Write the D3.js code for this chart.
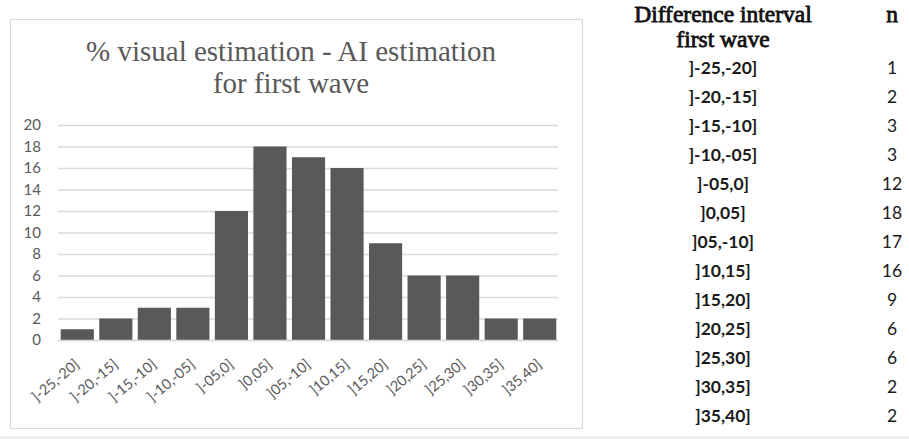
<!DOCTYPE html>
<html>
<head>
<meta charset="utf-8">
<script src="https://cdn.jsdelivr.net/npm/d3@7"></script>
<style>
  html, body { margin: 0; padding: 0; background: #fff; }
  svg { display: block; }
</style>
</head>
<body>
<script>
// ---- data ----
const categories = ["]-25,-20]", "]-20,-15]", "]-15,-10]", "]-10,-05]", "]-05,0]", "]0,05]", "]05,-10]", "]10,15]", "]15,20]", "]20,25]", "]25,30]", "]30,35]", "]35,40]"];
const axisLabels = ["]-25,-20]", "]-20,-15]", "]-15,-10]", "]-10,-05]", "]-05,0]", "]0,05]", "]05,-10]", "]10,15]", "]15,20]", "]20,25]", "]25,30]", "]30,35]", "]35,40]"];
const counts = [1, 2, 3, 3, 12, 18, 17, 16, 9, 6, 6, 2, 2];
const yTicks = [0, 2, 4, 6, 8, 10, 12, 14, 16, 18, 20];
const titleLines = ["% visual estimation - AI estimation", "for first wave"];
const tableHeader = ["Difference interval", "first wave"];
const nHeader = "n";

const W = 909, H = 439;
const svg = d3.select("body").append("svg").attr("width", W).attr("height", H);

// chart frame
svg.append("rect").attr("x", 10.5).attr("y", 19.5).attr("width", 572).attr("height", 409)
  .attr("fill", "#fff").attr("stroke", "#d9d9d9").attr("stroke-width", 1.2);
// bottom line of image
svg.append("line").attr("x1", 0).attr("x2", W).attr("y1", 437.5).attr("y2", 437.5)
  .attr("stroke", "#e3e3e3").attr("stroke-width", 1.5);

// title
const title = svg.append("text").attr("text-anchor", "middle")
  .attr("font-family", "'Liberation Serif', 'Times New Roman', serif")
  .attr("font-size", 29).attr("fill", "#595959");
titleLines.forEach((t, i) => {
  title.append("tspan").attr("x", 291).attr("y", 61 + i * 32).text(t);
});

// scales
const x = d3.scaleBand().domain(categories).range([58, 559]).paddingInner(0.14).paddingOuter(0.07);
const y = d3.scaleLinear().domain([0, 20]).range([340, 125]);

// gridlines
const grid = svg.append("g")
  .attr("transform", "translate(58,0)")
  .call(d3.axisLeft(y).tickValues(yTicks).tickSize(-500).tickFormat(""));
grid.select(".domain").remove();
grid.selectAll("line").attr("stroke", "#d9d9d9").attr("stroke-width", 1.3);

// y labels
svg.append("g").selectAll("text").data(yTicks).join("text")
  .attr("x", 41).attr("y", d => y(d)).attr("dy", "0.36em")
  .attr("text-anchor", "end")
  .attr("font-family", "Lato, 'Noto Sans', sans-serif").attr("font-size", 15)
  .attr("fill", "#595959").text(d => d);

// bars
svg.append("g").selectAll("rect").data(counts).join("rect")
  .attr("x", (d, i) => x(categories[i]))
  .attr("y", d => y(d))
  .attr("width", x.bandwidth())
  .attr("height", d => y(0) - y(d))
  .attr("fill", "#595959");

// x axis line
svg.append("line").attr("x1", 58).attr("x2", 558).attr("y1", y(0) + 0.5).attr("y2", y(0) + 0.5)
  .attr("stroke", "#d9d9d9").attr("stroke-width", 1.3);

// x labels
svg.append("g").selectAll("text").data(categories).join("text")
  .attr("transform", d => `translate(${x(d) + x.bandwidth() / 2 + 3},${366}) rotate(-40)`)
  .attr("text-anchor", "end")
  .attr("font-family", "Lato, 'Noto Sans', sans-serif").attr("font-size", 14.5)
  .attr("fill", "#595959").text((d, i) => axisLabels[i]);

// ---- table ----
const tbl = svg.append("g");
tbl.append("text").attr("text-anchor", "middle")
  .attr("font-family", "'Liberation Serif', 'Times New Roman', 'DejaVu Serif', serif")
  .attr("font-size", 23.5).attr("fill", "#111")
  .attr("stroke", "#111").attr("stroke-width", 0.8)
  .selectAll("tspan").data(tableHeader).join("tspan")
  .attr("x", 723).attr("y", (d, i) => 22 + i * 25).text(d => d);
tbl.append("text").attr("x", 892).attr("y", 22).attr("text-anchor", "middle")
  .attr("font-family", "'Liberation Serif', 'Times New Roman', 'DejaVu Serif', serif")
  .attr("font-size", 23.5).attr("fill", "#111")
  .attr("stroke", "#111").attr("stroke-width", 0.8).text(nHeader);

const rowY = d3.scalePoint().domain(categories).range([74, 422]);
tbl.append("g").selectAll("text").data(categories).join("text")
  .attr("x", 723).attr("y", d => rowY(d)).attr("text-anchor", "middle")
  .attr("font-family", "Lato, 'Noto Sans', sans-serif").attr("font-weight", "bold")
  .attr("font-size", 17.5).attr("fill", "#1a1a1a").text(d => d);
tbl.append("g").selectAll("text").data(counts).join("text")
  .attr("x", 892).attr("y", (d, i) => rowY(categories[i])).attr("text-anchor", "middle")
  .attr("font-family", "Lato, 'Noto Sans', sans-serif")
  .attr("font-size", 17.5).attr("fill", "#1a1a1a").text(d => d);
</script>
</body>
</html>
